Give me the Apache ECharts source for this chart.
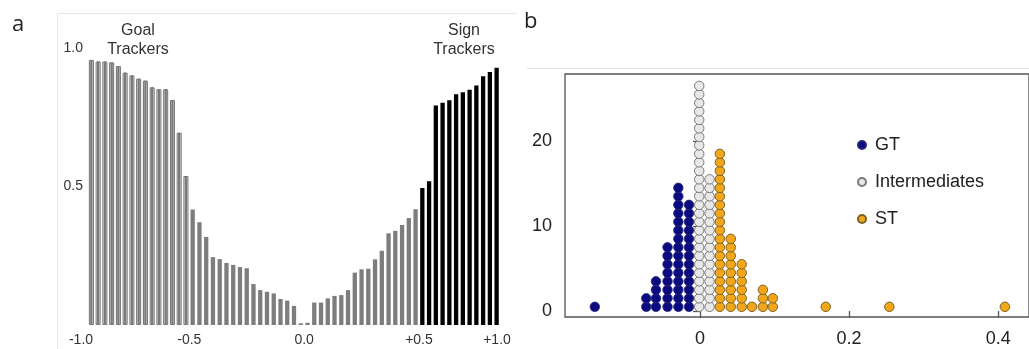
<!DOCTYPE html>
<html>
<head>
<meta charset="utf-8">
<script src="https://cdn.jsdelivr.net/npm/echarts@6/dist/echarts.min.js"></script>
<style>
html, body { margin: 0; padding: 0; background: #fff; }
#chart { width: 1029px; height: 349px; }
</style>
</head>
<body>
<div id="chart"></div>
<script>
// panel a: one bar per subject, sorted by index score
var goalBars = [0.957, 0.951, 0.951, 0.948, 0.935, 0.911, 0.901, 0.889, 0.882, 0.858, 0.851, 0.851, 0.812, 0.694, 0.538];
var midBars = [0.417, 0.371, 0.318, 0.245, 0.238, 0.224, 0.217, 0.209, 0.205, 0.148, 0.126, 0.120, 0.114, 0.094, 0.088, 0.069, 0.006, 0.008,
  0.081, 0.081, 0.096, 0.105, 0.108, 0.126, 0.189, 0.201, 0.203, 0.237, 0.268, 0.331, 0.340, 0.361, 0.386, 0.418];
var signBars = [0.495, 0.519, 0.792, 0.802, 0.811, 0.833, 0.840, 0.849, 0.865, 0.898, 0.913, 0.929];
var aTickPos = [0, 15, 32, 49, 61];
var aTickText = ['-1.0', '-0.5', '0.0', '+0.5', '+1.0'];

// panel b: dot plot, bin centre and number of dots in the bin
var gtX = [-0.141, -0.072, -0.059, -0.0435, -0.029, -0.0147];
var gtN = [1, 2, 4, 8, 15, 13];
var imX = [-0.001, 0.0129];
var imN = [27, 16];
var stX = [0.0267, 0.0413, 0.056, 0.0698, 0.0844, 0.0977, 0.1687, 0.254, 0.409];
var stN = [19, 9, 6, 1, 3, 2, 1, 1, 1];
var bTicksX = [0, 0.2, 0.4];
var bTicksY = [0, 10, 20];

(function () {
  var myChart = echarts.init(document.getElementById('chart'));
  var font = '"Liberation Sans", Arial, sans-serif';

  var allBars = goalBars.concat(midBars, signBars);
  var nGoal = goalBars.length, nMid = midBars.length;
  var cats = allBars.map(function (v, i) { return i; });
  var pick = function (from, to) {
    return allBars.map(function (v, i) { return (i >= from && i < to) ? v : '-'; });
  };

  var dots = function (xs, ns) {
    var out = [];
    xs.forEach(function (x, i) {
      for (var k = 0; k < ns[i]; k++) out.push([x, k + 0.5]);
    });
    return out;
  };

  var hiddenCat = function (grid) {
    return {
      type: 'category', gridIndex: grid, data: cats, show: false, position: 'bottom',
      axisLine: { show: false }, axisTick: { show: false }, axisLabel: { show: false }
    };
  };

  var option = {
    animation: false,
    textStyle: { fontFamily: font },
    graphic: [
      { type: 'line', shape: { x1: 57, y1: 13.5, x2: 517, y2: 13.5 }, style: { stroke: '#e6e6e6', lineWidth: 1 } },
      { type: 'line', shape: { x1: 57.5, y1: 13, x2: 57.5, y2: 349 }, style: { stroke: '#e6e6e6', lineWidth: 1 } },
      { type: 'line', shape: { x1: 527, y1: 68.5, x2: 1029, y2: 68.5 }, style: { stroke: '#e0e0e0', lineWidth: 1 } },
      { type: 'text', x: 12, y: 25, style: { text: 'a', font: '22px "Open Sans", sans-serif', fill: '#222', textVerticalAlign: 'middle' } },
      { type: 'text', x: 524, y: 22, style: { text: 'b', font: '22px "Open Sans", sans-serif', fill: '#222', textVerticalAlign: 'middle' } },
      { type: 'text', x: 138, y: 21, style: { text: 'Goal\nTrackers', font: '16px ' + font, fill: '#333', textAlign: 'center', textVerticalAlign: 'top', lineHeight: 19 } },
      { type: 'text', x: 464, y: 21, style: { text: 'Sign\nTrackers', font: '16px ' + font, fill: '#333', textAlign: 'center', textVerticalAlign: 'top', lineHeight: 19 } }
    ],
    legend: {
      data: ['GT', 'Intermediates', 'ST'],
      orient: 'vertical',
      left: 852,
      top: 131,
      icon: 'circle',
      itemWidth: 8,
      itemHeight: 8,
      itemGap: 19,
      textStyle: { fontSize: 18, color: '#222', padding: [0, 0, 0, 4], fontFamily: font }
    },
    grid: [
      { left: 88, right: 529, top: 48, bottom: 24 },
      { left: 565, right: -3, top: 74, bottom: 32, show: true, borderColor: '#555', borderWidth: 1.3 }
    ],
    xAxis: [
      hiddenCat(0),
      hiddenCat(0),
      hiddenCat(0),
      {
        type: 'value', gridIndex: 0, min: 0, max: allBars.length, position: 'bottom', offset: 0,
        axisLine: { show: false }, axisTick: { show: false }, splitLine: { show: false },
        axisLabel: {
          customValues: aTickPos,
          margin: 8,
          fontSize: 14,
          color: '#333',
          formatter: function (v) {
            var i = aTickPos.indexOf(v);
            if (i === 0) return '{l|' + aTickText[i] + '}';
            if (i === aTickPos.length - 1) return '{r|' + aTickText[i] + '}';
            return aTickText[i];
          },
          rich: {
            l: { fontSize: 14, color: '#333', fontFamily: font, padding: [0, 14, 0, 0] },
            r: { fontSize: 14, color: '#333', fontFamily: font, padding: [0, 6, 0, 0] }
          }
        }
      },
      {
        type: 'value', gridIndex: 1, min: -0.181, max: 0.4413, position: 'bottom',
        axisLine: { show: false }, splitLine: { show: false },
        axisTick: { show: true, customValues: bTicksX, length: 7, lineStyle: { color: '#555', width: 1.3 } },
        axisLabel: { customValues: bTicksX, fontSize: 18, color: '#222', margin: 13 }
      }
    ],
    yAxis: [
      {
        type: 'value', gridIndex: 0, min: 0, max: 1, interval: 0.5,
        axisLine: { show: false }, axisTick: { show: false }, splitLine: { show: false },
        axisLabel: {
          margin: 5, fontSize: 14, color: '#333',
          formatter: function (v) { return v === 0 ? '' : v.toFixed(1); }
        }
      },
      {
        type: 'value', gridIndex: 1, min: -0.7, max: 27.9,
        axisLine: { show: false }, splitLine: { show: false },
        axisTick: { show: true, customValues: bTicksY, length: 7, lineStyle: { color: '#555', width: 1.3 } },
        axisLabel: { customValues: bTicksY, fontSize: 18, color: '#222', margin: 13 }
      }
    ],
    series: [
      {
        name: 'goal outline', type: 'bar', xAxisIndex: 1, yAxisIndex: 0,
        data: pick(0, nGoal), barWidth: 5,
        itemStyle: { color: '#fff', borderColor: '#707070', borderWidth: 1 }
      },
      {
        name: 'goal fill', type: 'bar', xAxisIndex: 2, yAxisIndex: 0,
        data: pick(0, nGoal), barWidth: 2.4,
        itemStyle: { color: '#7a7a7a' }
      },
      {
        name: 'middle', type: 'bar', xAxisIndex: 0, yAxisIndex: 0, stack: 'a',
        data: pick(nGoal, nGoal + nMid), barWidth: 4.3,
        itemStyle: { color: '#7d7d7d' }
      },
      {
        name: 'sign', type: 'bar', xAxisIndex: 0, yAxisIndex: 0, stack: 'a',
        data: pick(nGoal + nMid, allBars.length), barWidth: 4.3,
        itemStyle: { color: '#000' }
      },
      {
        name: 'GT', type: 'scatter', xAxisIndex: 4, yAxisIndex: 1,
        data: dots(gtX, gtN), symbolSize: 9.5,
        itemStyle: { color: '#0b0b80', borderColor: '#27277a', borderWidth: 0.8, opacity: 1 }
      },
      {
        name: 'Intermediates', type: 'scatter', xAxisIndex: 4, yAxisIndex: 1,
        data: dots(imX, imN), symbolSize: 9.5,
        itemStyle: { color: '#e8e8e8', borderColor: '#7a7a7a', borderWidth: 1, opacity: 1 }
      },
      {
        name: 'ST', type: 'scatter', xAxisIndex: 4, yAxisIndex: 1,
        data: dots(stX, stN), symbolSize: 9.5,
        itemStyle: { color: '#f2a61c', borderColor: '#7d6322', borderWidth: 1, opacity: 1 }
      }
    ]
  };

  myChart.setOption(option);
  window.addEventListener('resize', function () {
    myChart.resize();
  });
})();
</script>
</body>
</html>
